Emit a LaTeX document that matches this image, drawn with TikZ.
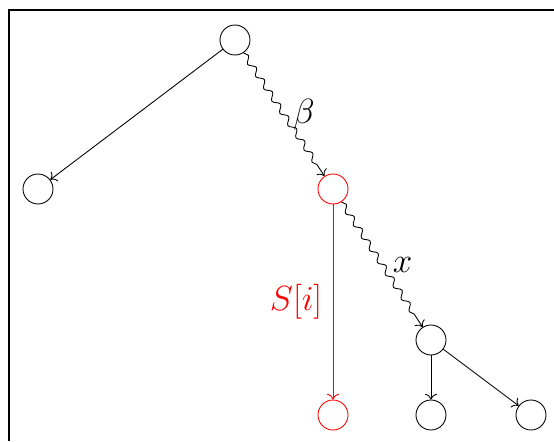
\documentclass[tikz,border=0pt]{standalone}
\usetikzlibrary{decorations.pathmorphing,arrows.meta}

\begin{document}
\begin{tikzpicture}[x=0.03cm,y=-0.03cm, line width=0.75pt, >={To[scale=1.5]},
  vert/.style={circle, draw, minimum size=0.9cm, inner sep=0pt},
  wavy/.style={->, decorate, decoration={snake, amplitude=2.4pt, segment length=12.5pt, post length=2.5mm}},
  lbl/.style={font=\Huge, scale=1.2}]
\useasboundingbox (0,0) rectangle (554,441);
\draw[line width=1pt] (9,441) -- (9,10) -- (554,10);
\node[vert] (root) at (235,40) {};
\node[vert] (left) at (38,189) {};
\node[vert, red] (mid) at (333,189) {};
\node[vert] (xnode) at (431,340) {};
\node[vert, red] (rbot) at (333,415) {};
\node[vert] (bmid) at (431,415) {};
\node[vert] (bright) at (531,415) {};
\draw[->] (root) -- (left);
\draw[wavy] (root) -- node[lbl, right=3pt] {$\beta$} (mid);
\draw[->, red] (mid) -- node[lbl, left=4pt] {$S[i]$} (rbot);
\draw[wavy] (mid) -- node[lbl, right=4pt] {$x$} (xnode);
\draw[->] (xnode) -- (bmid);
\draw[->] (xnode) -- (bright);
\end{tikzpicture}
\end{document}
